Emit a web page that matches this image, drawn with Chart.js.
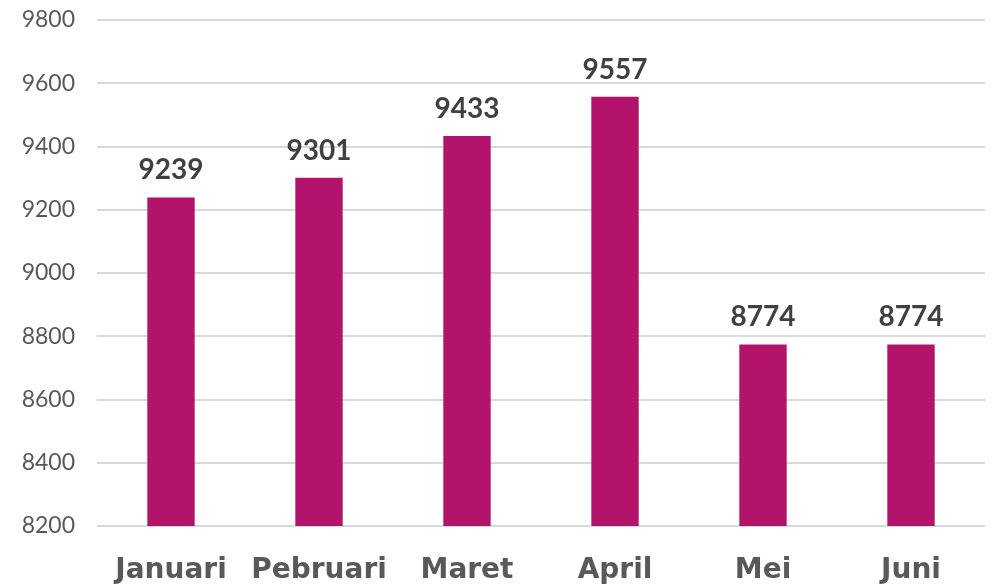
<!DOCTYPE html>
<html>
<head>
<meta charset="utf-8">
<script src="https://cdn.jsdelivr.net/npm/chart.js@4"></script>
<style>
  html, body { margin: 0; padding: 0; background: #fff; }
  #wrap { width: 995px; height: 587px; }
</style>
</head>
<body>
<div id="wrap"><canvas id="chart" width="995" height="587"></canvas></div>
<script>
// Data
const months = ["Januari", "Pebruari", "Maret", "April", "Mei", "Juni"];
const totals = [9239, 9301, 9433, 9557, 8774, 8774];
const yTicks = [8200, 8400, 8600, 8800, 9000, 9200, 9400, 9600, 9800];

const FONT = "Lato, 'Open Sans', sans-serif";
const CAT_FONT = "'DejaVu Sans', sans-serif";

// Value labels above bars
const barLabels = {
  id: "barLabels",
  afterDatasetsDraw(chart) {
    const ctx = chart.ctx;
    const meta = chart.getDatasetMeta(0);
    ctx.save();
    ctx.fillStyle = "#404040";
    ctx.font = "bold 28px " + FONT;
    ctx.textAlign = "center";
    ctx.textBaseline = "alphabetic";
    meta.data.forEach((bar, i) => {
      ctx.fillText(String(totals[i]), bar.x, bar.y - 18);
    });
    ctx.restore();
  },
};

const ctx = document.getElementById("chart").getContext("2d");
new Chart(ctx, {
  type: "bar",
  data: {
    labels: months,
    datasets: [
      {
        data: totals,
        backgroundColor: "#B3136A",
        categoryPercentage: 1,
        barPercentage: 0.32,
      },
    ],
  },
  options: {
    responsive: false,
    animation: false,
    layout: { padding: { top: 20, right: 10, left: 0, bottom: 0 } },
    plugins: { legend: { display: false }, tooltip: { enabled: false } },
    scales: {
      x: {
        grid: { display: false, drawTicks: false },
        border: { display: false },
        ticks: {
          color: "#595959",
          font: { family: CAT_FONT, size: 28, weight: "bold" },
          padding: 28,
        },
        afterFit(scale) {
          scale.height = 61;
          scale.paddingLeft = 0;
          scale.paddingRight = 0;
        },
      },
      y: {
        min: yTicks[0],
        max: yTicks[yTicks.length - 1],
        afterBuildTicks(scale) {
          scale.ticks = yTicks.map((v) => ({ value: v }));
        },
        grid: { color: "#D9D9D9", lineWidth: 2, drawTicks: false },
        border: { display: false },
        ticks: {
          color: "#595959",
          font: { family: FONT, size: 23 },
          padding: 22,
          callback: (v) => String(v),
        },
        afterFit(scale) {
          scale.width = 97;
          scale.paddingTop = 0;
          scale.paddingBottom = 0;
        },
      },
    },
  },
  plugins: [barLabels],
});
</script>
</body>
</html>
